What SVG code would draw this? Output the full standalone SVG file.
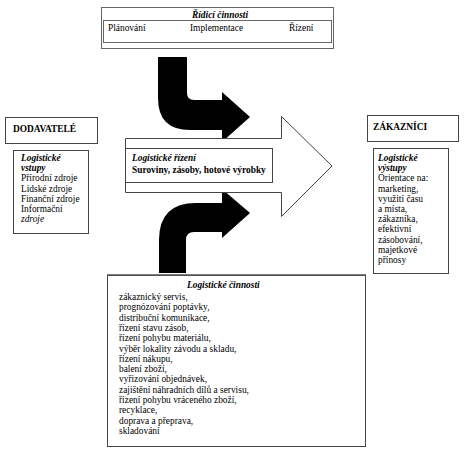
<svg xmlns="http://www.w3.org/2000/svg" width="465" height="454" viewBox="0 0 465 454">
<style>
text{font-family:"Liberation Serif","Times New Roman",serif;font-size:9.4px;fill:#000}
.b{font-weight:bold}
.bi{font-weight:bold;font-style:italic}
.i{font-style:italic}
.box{fill:#fff;stroke:#444;stroke-width:1}
.gr{fill:none;stroke:#666;stroke-width:1}
.blk{fill:#000;stroke:none}
</style>
<rect width="465" height="454" fill="#fff"/>
<g id="connectors">
<path class="blk" d="M158,57 L187,57 L187,93 Q187,100 194,100 L222,100 L222,92 L250,117 L222,142 L222,130 L190,130 Q158,130 158,98 Z"/>
<path class="blk" d="M159,273 L186,273 L186,240 Q186,232 194,232 L222,232 L222,238 L250,213 L222,189 L222,203 L196,203 Q159,203 159,240 Z"/>
</g>
<g id="ridici">
<rect class="gr" x="101.5" y="7.5" width="232" height="41"/>
<rect class="gr" x="103.5" y="20.5" width="228" height="22"/>
<text class="bi" x="220" y="17.5" text-anchor="middle">Řídicí činnosti</text>
<text x="108" y="31">Plánování</text>
<text x="190" y="31">Implementace</text>
<text x="289" y="31">Řízení</text>
</g>
<g id="rizeni">
<polygon class="box" points="125.5,138.5 281.5,138.5 281.5,116.5 332,166 281.5,216.5 281.5,192.5 125.5,192.5"/>
<rect class="box" x="125.5" y="148.5" width="147" height="34"/>
<text class="bi" x="132" y="161">Logistické řízení</text>
<text class="b" x="132" y="173">Suroviny, zásoby, hotové výrobky</text>
</g>
<g id="dodavatele">
<rect class="box" x="5.5" y="117.5" width="92" height="26"/>
<text class="b" x="13" y="132">DODAVATELÉ</text>
</g>
<g id="vstupy">
<rect class="box" x="13.5" y="150.5" width="75" height="83"/>
<text x="21" y="161"><tspan class="bi">Logistické</tspan><tspan class="bi" x="21" dy="10.2">vstupy</tspan><tspan x="21" dy="10.2">Přírodní zdroje</tspan><tspan x="21" dy="10.2">Lidské zdroje</tspan><tspan x="21" dy="10.2">Finanční zdroje</tspan><tspan x="21" dy="10.2">Informační</tspan><tspan class="i" x="21" dy="10.2">zdroje</tspan></text>
</g>
<g id="zakaznici">
<rect class="box" x="367.5" y="115.5" width="91" height="26"/>
<text class="b" x="373" y="130">ZÁKAZNÍCI</text>
</g>
<g id="vystupy">
<rect class="box" x="373.5" y="148.5" width="75" height="125"/>
<text x="378" y="161"><tspan class="bi">Logistické</tspan><tspan class="bi" x="378" dy="10.2">výstupy</tspan><tspan x="378" dy="10.2">Orientace na:</tspan><tspan x="378" dy="10.2">marketing,</tspan><tspan x="378" dy="10.2">využití času</tspan><tspan x="378" dy="10.2">a místa,</tspan><tspan x="378" dy="10.2">zákazníka,</tspan><tspan x="378" dy="10.2">efektivní</tspan><tspan x="378" dy="10.2">zásobování,</tspan><tspan x="378" dy="10.2">majetkové</tspan><tspan x="378" dy="10.2">přínosy</tspan></text>
</g>
<g id="cinnosti">
<rect class="box" x="107.5" y="275.5" width="258" height="171"/>
<line x1="107" y1="275" x2="366" y2="275" stroke="#555" stroke-width="1.5"/>
<text class="bi" x="187" y="288">Logistické činnosti</text>
<text x="119" y="300"><tspan>zákaznický servis,</tspan><tspan x="119" dy="10.3">prognózování poptávky,</tspan><tspan x="119" dy="10.3">distribuční komunikace,</tspan><tspan x="119" dy="10.3">řízení stavu zásob,</tspan><tspan x="119" dy="10.3">řízení pohybu materiálu,</tspan><tspan x="119" dy="10.3">výběr lokality závodu a skladu,</tspan><tspan x="119" dy="10.3">řízení nákupu,</tspan><tspan x="119" dy="10.3">balení zboží,</tspan><tspan x="119" dy="10.3">vyřizování objednávek,</tspan><tspan x="119" dy="10.3">zajištění náhradních dílů a servisu,</tspan><tspan x="119" dy="10.3">řízení pohybu vráceného zboží,</tspan><tspan x="119" dy="10.3">recyklace,</tspan><tspan x="119" dy="10.3">doprava a přeprava,</tspan><tspan x="119" dy="10.3">skladování</tspan></text>
</g>
</svg>
